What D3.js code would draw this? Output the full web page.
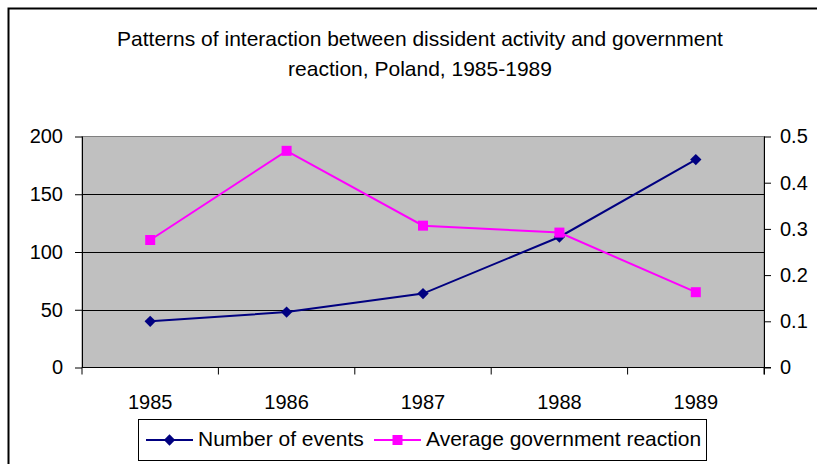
<!DOCTYPE html>
<meta charset="utf-8">
<head>
    <title>Patterns of interaction, Poland 1985-1989</title>
    <script src="https://d3js.org/d3.v7.min.js"></script>
    <style>
        body { margin: 0; background: #fff; }
        text { font-family: "Liberation Sans", Arial, sans-serif; fill: #000; }
    </style>
</head>
<body>
<svg id="chart"></svg>
<script>
    // data
    var years = ["1985", "1986", "1987", "1988", "1989"];
    var numEvents = [40, 48, 64, 113, 180];
    var avgReaction = [0.276, 0.469, 0.307, 0.292, 0.163];
    var leftTicks = [0, 50, 100, 150, 200];
    var rightTicks = [0, 0.1, 0.2, 0.3, 0.4, 0.5];
    var titleLines = ["Patterns of interaction between dissident activity and government",
                      "reaction, Poland, 1985-1989"];

    var W = 817, H = 464;
    var plot = { left: 82, right: 764, top: 136.5, bottom: 367.5 };

    var svg = d3.select("#chart").attr("width", W).attr("height", H);

    // outer chart border
    svg.append("rect")
        .attr("x", 8.5).attr("y", 8.5)
        .attr("width", W).attr("height", H)
        .attr("fill", "#fff").attr("stroke", "#000").attr("stroke-width", 2);

    // title
    svg.append("g").selectAll("text")
        .data(titleLines)
        .enter().append("text")
        .attr("x", 420).attr("y", function(d, i) { return 45.5 + i * 30; })
        .attr("text-anchor", "middle")
        .style("font-size", "21px")
        .text(function(d) { return d; });

    var x = d3.scaleBand().domain(years).range([plot.left, plot.right]);
    var yL = d3.scaleLinear().domain([0, 200]).range([plot.bottom, plot.top]);
    var yR = d3.scaleLinear().domain([0, 0.5]).range([plot.bottom, plot.top]);

    // plot area
    svg.append("rect")
        .attr("x", plot.left).attr("y", plot.top)
        .attr("width", plot.right - plot.left).attr("height", plot.bottom - plot.top)
        .attr("fill", "#c0c0c0")
        .attr("stroke", "#808080");

    // gridlines
    svg.append("g").selectAll("line")
        .data(leftTicks.filter(function(d) { return d > 0 && d < 200; }))
        .enter().append("line")
        .attr("x1", plot.left).attr("x2", plot.right)
        .attr("y1", function(d) { return Math.round(yL(d)) + 0.5; })
        .attr("y2", function(d) { return Math.round(yL(d)) + 0.5; })
        .attr("stroke", "#000");

    // left axis
    var gL = svg.append("g")
        .attr("transform", "translate(" + plot.left + ",0)")
        .call(d3.axisLeft(yL).tickValues(leftTicks).tickSize(7).tickPadding(12).tickSizeOuter(0));
    // right axis
    var gR = svg.append("g")
        .attr("transform", "translate(" + plot.right + ",0)")
        .call(d3.axisRight(yR).tickValues(rightTicks).tickSize(7).tickPadding(9).tickSizeOuter(0)
            .tickFormat(function(d) { return d3.format("")(+d.toFixed(1)); }));
    // bottom axis with ticks on band edges
    var gB = svg.append("g")
        .attr("transform", "translate(0," + plot.bottom + ")");
    gB.append("line")
        .attr("x1", plot.left).attr("x2", plot.right + 7)
        .attr("stroke", "#000");
    gB.selectAll("line.tk")
        .data(years.concat(["end"]))
        .enter().append("line").attr("class", "tk")
        .attr("x1", function(d, i) { return plot.left + i * x.bandwidth(); })
        .attr("x2", function(d, i) { return plot.left + i * x.bandwidth(); })
        .attr("y1", 0).attr("y2", 7)
        .attr("stroke", "#000");
    gB.selectAll("text")
        .data(years)
        .enter().append("text")
        .attr("x", function(d) { return x(d) + x.bandwidth() / 2; })
        .attr("y", 41)
        .attr("text-anchor", "middle")
        .style("font-size", "20px")
        .text(function(d) { return d; });

    [gL, gR].forEach(function(g) {
        g.selectAll("text").style("font-size", "20px").attr("fill", "#000");
        g.selectAll("line, path").attr("stroke", "#000");
    });
    gL.select(".domain").attr("d", "M0.5," + plot.top + "V" + plot.bottom);
    gR.select(".domain").attr("d", "M0.5," + plot.top + "V" + (plot.bottom + 7));

    var cx = function(d, i) { return x(years[i]) + x.bandwidth() / 2; };
    var diamond = d3.symbol().type(d3.symbolSquare).size(64);
    var square = d3.symbol().type(d3.symbolSquare).size(100);

    // series 1
    svg.append("path")
        .datum(numEvents)
        .attr("d", d3.line().x(cx).y(function(d) { return yL(d); }))
        .attr("fill", "none").attr("stroke", "#000080").attr("stroke-width", 2);
    // series 2
    svg.append("path")
        .datum(avgReaction)
        .attr("d", d3.line().x(cx).y(function(d) { return yR(d); }))
        .attr("fill", "none").attr("stroke", "#ff00ff").attr("stroke-width", 2);

    svg.append("g").selectAll("path")
        .data(numEvents)
        .enter().append("path")
        .attr("d", diamond)
        .attr("transform", function(d, i) { return "translate(" + cx(d, i) + "," + yL(d) + ") rotate(45)"; })
        .attr("fill", "#000080");
    svg.append("g").selectAll("path")
        .data(avgReaction)
        .enter().append("path")
        .attr("d", square)
        .attr("transform", function(d, i) { return "translate(" + cx(d, i) + "," + yR(d) + ")"; })
        .attr("fill", "#ff00ff");

    // legend
    var legend = svg.append("g");
    legend.append("rect")
        .attr("x", 138.5).attr("y", 419.5).attr("width", 568).attr("height", 41)
        .attr("fill", "#fff").attr("stroke", "#000");
    var items = [
        { label: "Number of events", color: "#000080", x0: 146, tx: 198, sym: "d" },
        { label: "Average government reaction", color: "#ff00ff", x0: 374, tx: 426, sym: "s" }
    ];
    items.forEach(function(it) {
        legend.append("line")
            .attr("x1", it.x0).attr("x2", it.x0 + 47)
            .attr("y1", 440).attr("y2", 440)
            .attr("stroke", it.color).attr("stroke-width", 2);
        legend.append("path")
            .attr("d", it.sym === "d" ? diamond() : square())
            .attr("transform", "translate(" + (it.x0 + 23.5) + ",440)" + (it.sym === "d" ? " rotate(45)" : ""))
            .attr("fill", it.color);
        legend.append("text")
            .attr("x", it.tx).attr("y", 446)
            .style("font-size", "21px")
            .text(it.label);
    });
</script>
</body>
</html>
